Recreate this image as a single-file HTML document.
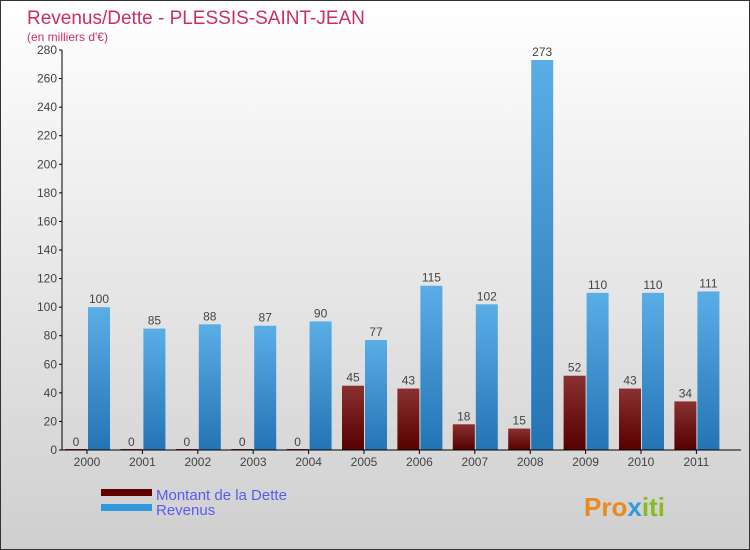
<!DOCTYPE html>
<html><head><meta charset="utf-8"><style>
body{margin:0}
#c{position:relative;width:748px;height:548px;border:1px solid #333;background:linear-gradient(#ffffff,#cfcfcf);overflow:hidden;font-family:"Liberation Sans",sans-serif}
</style></head><body>
<div id="c">
<svg id="s" width="748" height="548" style="position:absolute;left:0;top:0">
<text x="26" y="23" font-size="19" fill="#c83060">Revenus/Dette - PLESSIS-SAINT-JEAN</text>
<text x="26" y="40" font-size="12" fill="#c83060">(en milliers d'€)</text>
<g id="plot"></g>
<g>
<rect x="100" y="488" width="51" height="7" fill="#600000"/>
<text x="155" y="499" font-size="15" fill="#5a5af0">Montant de la Dette</text>
<rect x="100" y="503" width="51" height="7" fill="#3399dd"/>
<text x="155" y="514" font-size="15" fill="#5a5af0">Revenus</text>
</g>
<text x="583" y="515" font-size="26" font-weight="bold" fill="#e88a20">Pro<tspan fill="#3399dd">x</tspan><tspan fill="#88bb22">iti</tspan></text>
</svg>
</div>
<script>
const years=["2000","2001","2002","2003","2004","2005","2006","2007","2008","2009","2010","2011"];
const debt=[0,0,0,0,0,45,43,18,15,52,43,34];
const revenue=[100,85,88,87,90,77,115,102,273,110,110,111];
const ticks=[0,20,40,60,80,100,120,140,160,180,200,220,240,260,280];
const NS="http://www.w3.org/2000/svg";
const g=document.getElementById('plot');
const y0=449,ppu=400/280,x0=61;
const yS=v=>y0-v*ppu;
const xS=i=>86+i*55.4;
function mk(t,a){const e=document.createElementNS(NS,t);for(const k in a)e.setAttribute(k,a[k]);g.appendChild(e);return e;}
const defs=mk('defs',{});
defs.innerHTML='<linearGradient id="gb" x1="0" y1="0" x2="0" y2="1"><stop offset="0" stop-color="#5aaee6"/><stop offset="1" stop-color="#2474b4"/></linearGradient><linearGradient id="gr" x1="0" y1="0" x2="0" y2="1"><stop offset="0" stop-color="#8a3030"/><stop offset="1" stop-color="#560000"/></linearGradient>';
ticks.forEach(t=>{
 const l=mk('line',{x1:x0-3,x2:x0,y1:yS(t),y2:yS(t),stroke:'#000'});
 
 const tx=mk('text',{x:x0-5,y:yS(t)+4,'font-size':12,fill:'#444','text-anchor':'end'});
 tx.textContent=t;
 
});
years.forEach((yr,i)=>{
 const c=xS(i);
 const bd=mk('rect',{x:c-22,y:yS(debt[i])-(debt[i]?0:1),width:22,height:Math.max(debt[i]*ppu,1),fill:'url(#gr)'});
 
 const br=mk('rect',{x:c+1,y:yS(revenue[i]),width:22,height:revenue[i]*ppu,fill:'url(#gb)'});
 
 const ld=mk('text',{x:c-11,y:yS(debt[i])-4,'font-size':12,fill:'#444','text-anchor':'middle'});
 ld.textContent=debt[i];
 
 const lr=mk('text',{x:c+12,y:yS(revenue[i])-4,'font-size':12,fill:'#444','text-anchor':'middle'});
 lr.textContent=revenue[i];
 
 const tk=mk('line',{x1:c,x2:c,y1:y0,y2:y0+4,stroke:'#000'});
 
 const xl=mk('text',{x:c,y:y0+16,'font-size':12,fill:'#444','text-anchor':'middle'});
 xl.textContent=yr;
 
});
const ya=mk('line',{x1:x0,x2:x0,y1:yS(280),y2:y0,stroke:'#000'});

const xa=mk('line',{x1:x0,x2:740,y1:y0,y2:y0,stroke:'#000'});

</script>
</body></html>
